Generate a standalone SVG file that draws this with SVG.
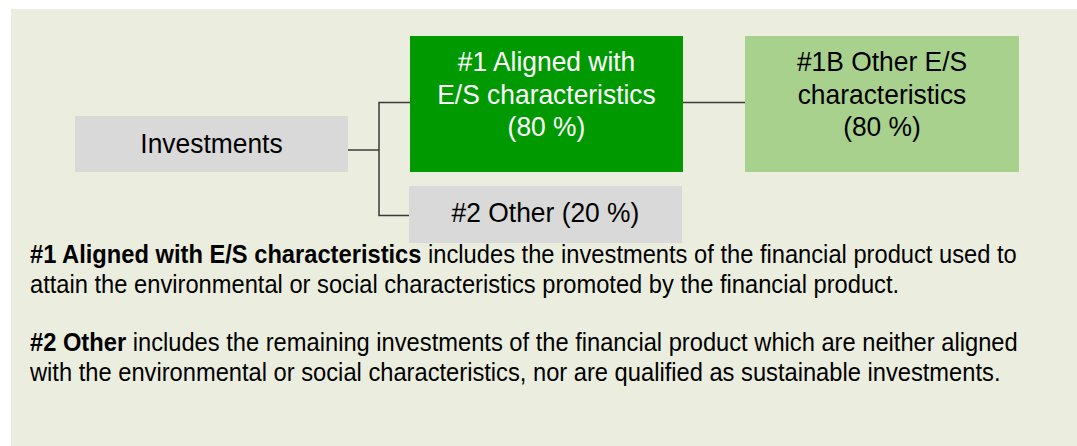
<svg xmlns="http://www.w3.org/2000/svg" width="1077" height="446" viewBox="0 0 1077 446">
<style>
.box-text{font-family:"Liberation Sans",Arial,sans-serif;font-size:26.4px;text-anchor:middle;}
.dark{fill:#000000;}
.light{fill:#ffffff;}
.para{font-family:"Liberation Sans",Arial,sans-serif;font-size:23.7px;fill:#000000;}
.b{font-weight:bold;}
.conn{fill:none;stroke:#3a3a3a;stroke-width:1.5;}
</style>
<rect x="0" y="0" width="1077" height="446" fill="#ffffff"/>
<rect id="panel" x="11" y="9" width="1066" height="437" fill="#EBEEDF"/>
<g id="connectors">
<path class="conn" d="M348 150 H379"/>
<path class="conn" d="M410 102.5 H379 V215.5 H409"/>
<path class="conn" d="M683 102.5 H746"/>
</g>
<g id="investments">
<rect x="75" y="116" width="273" height="56" fill="#D9D9D9"/>
<text class="box-text dark" x="211.5" y="153" transform="matrix(1 0 0 1.08 0 -12.24)">Investments</text>
</g>
<g id="aligned">
<rect x="410" y="36" width="273" height="136" fill="#009900"/>
<text class="box-text light" x="546.5" y="71.5" transform="matrix(1 0 0 1.08 0 -5.72)">#1 Aligned with</text>
<text class="box-text light" x="546.5" y="104.5" transform="matrix(1 0 0 1.08 0 -8.36)">E/S characteristics</text>
<text class="box-text light" x="546.5" y="136.5" transform="matrix(1 0 0 1.08 0 -10.92)">(80 %)</text>
</g>
<g id="other-es">
<rect x="745" y="36" width="274" height="136" fill="#A9D18E"/>
<text class="box-text dark" x="882" y="71.5" transform="matrix(1 0 0 1.08 0 -5.72)">#1B Other E/S</text>
<text class="box-text dark" x="882" y="104.5" transform="matrix(1 0 0 1.08 0 -8.36)">characteristics</text>
<text class="box-text dark" x="882" y="136.5" transform="matrix(1 0 0 1.08 0 -10.92)">(80 %)</text>
</g>
<g id="other">
<rect x="409" y="186" width="273" height="57" fill="#D9D9D9"/>
<text class="box-text dark" x="545.5" y="222" transform="matrix(1 0 0 1.08 0 -17.76)">#2 Other (20 %)</text>
</g>
<g id="description">
<text class="para" x="30" y="263" transform="matrix(1 0 0 1.08 0 -21.04)"><tspan class="b">#1 Aligned with E/S characteristics</tspan> includes the investments of the financial product used to</text>
<text class="para" x="30" y="293" transform="matrix(1 0 0 1.08 0 -23.44)">attain the environmental or social characteristics promoted by the financial product.</text>
<text class="para" x="30" y="351.5" transform="matrix(1 0 0 1.08 0 -28.12)"><tspan class="b">#2 Other</tspan> includes the remaining investments of the financial product which are neither aligned</text>
<text class="para" x="30" y="381.5" transform="matrix(1 0 0 1.08 0 -30.52)">with the environmental or social characteristics, nor are qualified as sustainable investments.</text>
</g>
</svg>
